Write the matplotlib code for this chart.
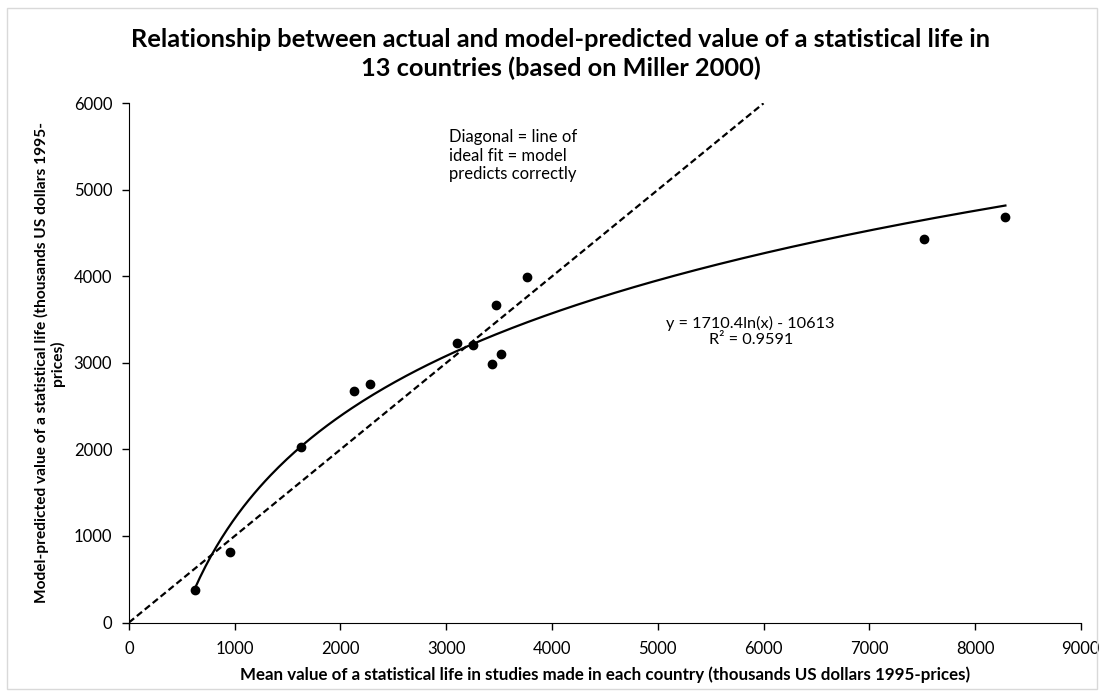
"""
Actual vs model-predicted value of a statistical life (Miller 2000), 13 countries
"""

import numpy as np
import matplotlib.pyplot as plt
from matplotlib.patches import Rectangle

plt.rcParams['font.family'] = ['Lato', 'DejaVu Sans']

# 各国研究的平均值 (x) 与模型预测值 (y)
actual = [621, 955, 1623, 2127, 2282, 3104, 3252, 3435, 3517, 3469, 3762, 7521, 8287]
predicted = [377, 816, 2023, 2677, 2751, 3232, 3206, 2990, 3102, 3672, 3992, 4431, 4682]

# 对数趋势线系数
coef_a = 1710.4
coef_b = -10613
r_squared = 0.9591

diag = [0, 6000]

fig = plt.figure(figsize=(11.04, 6.93), dpi=100)
fig.patches.append(Rectangle((0.006, 0.006), 0.988, 0.982, transform=fig.transFigure,
                             fill=False, edgecolor='#d9d9d9', linewidth=1))
ax = fig.add_axes([0.1168, 0.1017, 0.8622, 0.7492])

# 对角线 = 理想拟合
ax.plot(diag, diag, color='black', linestyle=(0, (3, 1.6)), linewidth=1.6)

# 趋势线
xs = np.linspace(min(actual), max(actual), 300)
ax.plot(xs, coef_a * np.log(xs) + coef_b, color='black', linewidth=1.6)

ax.plot(actual, predicted, 'o', color='black', markersize=6)

ax.set_xlim(0, 9000)
ax.set_ylim(0, 6000)
ax.set_xticks(range(0, 9001, 1000))
ax.set_yticks(range(0, 6001, 1000))
ax.tick_params(direction='out', length=5, width=1, labelsize=12)
ax.tick_params(axis='x', pad=8)
ax.tick_params(axis='y', pad=7)
for s in ['top', 'right']:
    ax.spines[s].set_visible(False)

ax.set_xlabel("Mean value of a statistical life in studies made in each country (thousands US dollars 1995-prices)",
              fontsize=12.2, fontweight='bold', labelpad=7)
ax.set_ylabel("Model-predicted value of a statistical life (thousands US dollars 1995-\nprices)",
              fontsize=11.2, fontweight='bold', labelpad=6, linespacing=1.1)

fig.text(0.508, 0.922, "Relationship between actual and model-predicted value of a statistical life in\n"
         "13 countries (based on Miller 2000)", ha='center', va='center',
         fontsize=18.3, fontweight='bold', linespacing=1.25)

ax.text(3025, 5700, "Diagonal = line of\nideal fit = model\npredicts correctly",
        ha='left', va='top', fontsize=12, linespacing=1.2)
ax.text(5879, 3540, f"y = {coef_a}ln(x) - {abs(coef_b)}\nR² = {r_squared}",
        ha='center', va='top', fontsize=11.7, linespacing=1.2)

plt.savefig("out.png", dpi=100)
